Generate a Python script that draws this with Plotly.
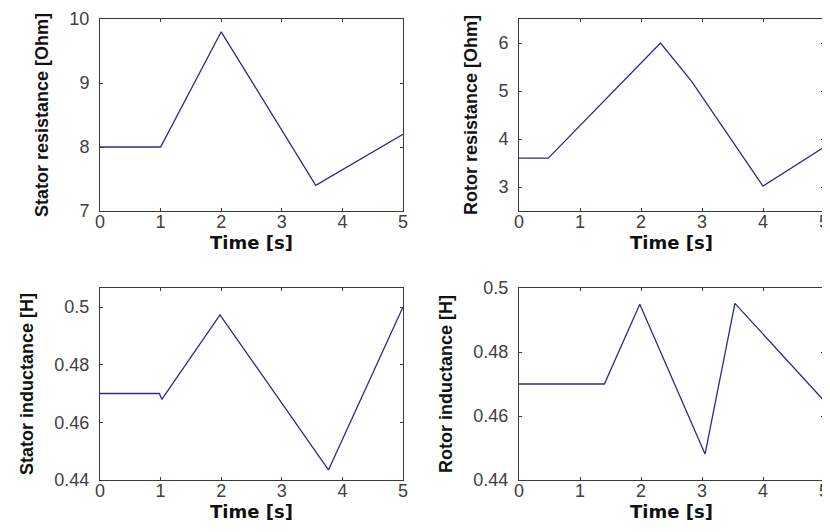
import plotly.graph_objects as go

# Stator resistance
t_rs = [0, 1, 2, 3.56, 5]
rs = [8.0, 8.0, 9.8, 7.4, 8.2]
# Rotor resistance
t_rr = [0, 0.48, 2.32, 2.83, 4.0, 5]
rr = [3.6, 3.6, 6.0, 5.2, 3.02, 3.83]
# Stator inductance
t_ls = [0, 0.98, 1.02, 1.98, 3.77, 5]
ls = [0.47, 0.47, 0.468, 0.4973, 0.4435, 0.5]
# Rotor inductance
t_lr = [0, 1.4, 1.98, 3.05, 3.54, 5]
lr = [0.47, 0.47, 0.4949, 0.4481, 0.4952, 0.4648]

x_ticks = [0, 1, 2, 3, 4, 5]
x_title = "Time [s]"
y_titles = ["Stator resistance [Ohm]", "Rotor resistance [Ohm]",
            "Stator inductance [H]", "Rotor inductance [H]"]

# page body adds an 8px offset, so the figure is 8px smaller
OFF = 8
W, H = 830 - OFF, 532 - OFF
def dx(a, b):
    return [(a - OFF) / W, (b - OFF) / W]
def dy(top, bot):
    return [1 - (bot - OFF) / H, 1 - (top - OFF) / H]

LINE = "#2a2a96"
AX = "#3a3a3a"
TICKF = dict(family="Liberation Sans, Arial, sans-serif", size=18, color="#404040")

fig = go.Figure()
series = [(t_rs, rs), (t_rr, rr), (t_ls, ls), (t_lr, lr)]
for i, (t, v) in enumerate(series):
    sfx = "" if i == 0 else str(i + 1)
    fig.add_trace(go.Scatter(x=t, y=v, mode="lines", line=dict(color=LINE, width=1.3),
                             xaxis="x" + sfx, yaxis="y" + sfx, showlegend=False,
                             hoverinfo="skip"))

domains = [
    (dx(100, 403), dy(19, 211)),
    (dx(519, 824), dy(19, 211)),
    (dx(100, 403), dy(288, 480)),
    (dx(519, 824), dy(288, 480)),
]
yranges = [[7, 10], [2.5, 6.5], [0.44, 0.5066], [0.44, 0.5]]
ytickvals = [[7, 8, 9, 10], [3, 4, 5, 6], [0.44, 0.46, 0.48, 0.5], [0.44, 0.46, 0.48, 0.5]]

layout = dict(width=W, height=H, margin=dict(l=0, r=0, t=0, b=0, autoexpand=False),
              paper_bgcolor="white", plot_bgcolor="white", showlegend=False)
for i in range(4):
    sfx = "" if i == 0 else str(i + 1)
    xd, yd = domains[i]
    common = dict(showgrid=False, zeroline=False, showline=True, linecolor=AX, linewidth=1,
                  mirror="ticks", ticks="inside", ticklen=3, tickcolor=AX, tickfont=TICKF,
                  automargin=False)
    layout["xaxis" + sfx] = dict(domain=xd, anchor="y" + sfx, range=[0, 5],
                                 tickvals=x_ticks, ticklabelstandoff=-6,
                                 title=dict(text=x_title, standoff=2,
                                            font=dict(family="DejaVu Sans, sans-serif",
                                                      size=18, color="#111", weight="bold")),
                                 **common)
    layout["yaxis" + sfx] = dict(domain=yd, anchor="x" + sfx, range=yranges[i],
                                 tickvals=ytickvals[i], ticklabelstandoff=6,
                                 title=dict(text=y_titles[i], standoff=16,
                                            font=dict(family="Liberation Sans, Arial, sans-serif",
                                                      size=18, color="#111", weight="bold")),
                                 **common)
fig.update_layout(**layout)
fig.write_html("out.html")
